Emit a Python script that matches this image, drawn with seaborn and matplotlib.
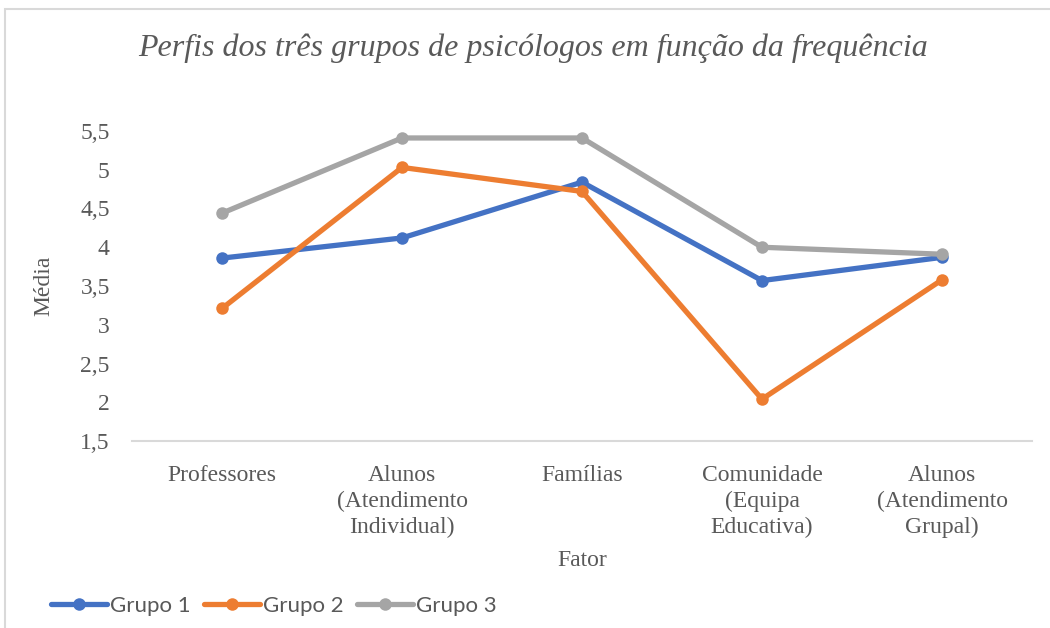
import matplotlib
matplotlib.use('Agg')
import matplotlib.pyplot as plt
import seaborn as sns
import pandas as pd
from matplotlib.ticker import FuncFormatter, MultipleLocator
from matplotlib.lines import Line2D

# Dados
fatores = ['Professores', 'Alunos\n(Atendimento\nIndividual)', 'Famílias',
           'Comunidade\n(Equipa\nEducativa)', 'Alunos\n(Atendimento\nGrupal)']
grupo1 = [3.86, 4.12, 4.84, 3.57, 3.87]
grupo2 = [3.21, 5.03, 4.72, 2.04, 3.58]
grupo3 = [4.44, 5.41, 5.41, 4.00, 3.91]
grupos = ['Grupo 1', 'Grupo 2', 'Grupo 3']
cores = ['#4472C4', '#ED7D31', '#A5A5A5']

df = pd.DataFrame({'Fator': fatores * 3,
                   'Média': grupo1 + grupo2 + grupo3,
                   'Grupo': [g for g in grupos for _ in fatores]})

sns.set_style('white')
plt.rcParams['font.family'] = 'serif'
plt.rcParams['font.serif'] = ['Liberation Serif', 'DejaVu Serif']

fig = plt.figure(figsize=(10.5, 6.28), dpi=100)
ax = fig.add_axes([132 / 1050, 1 - 441 / 628, 900 / 1050, 310 / 628])

cinza = '#595959'
for g, c in zip(grupos, cores):
    sub = df[df['Grupo'] == g]
    sns.lineplot(data=sub, x='Fator', y='Média', ax=ax, color=c, linewidth=3.8,
                 marker='o', markersize=9, markeredgewidth=0, sort=False,
                 solid_capstyle='round')

ax.set_xlim(-0.5, 4.5)
ax.set_ylim(1.5, 5.5)
ax.set_xticks(range(len(fatores)))
ax.set_xticklabels(fatores, linespacing=1.3)
ax.yaxis.set_major_locator(MultipleLocator(0.5))
ax.yaxis.set_major_formatter(FuncFormatter(lambda v, p: f'{v:g}'.replace('.', ',')))
ax.tick_params(axis='both', length=0, labelsize=17, labelcolor=cinza)
ax.tick_params(axis='x', pad=17)
ax.tick_params(axis='y', pad=16)
for s in ['top', 'right', 'left']:
    ax.spines[s].set_visible(False)
ax.spines['bottom'].set_color('#D9D9D9')
ax.spines['bottom'].set_linewidth(1.5)
if ax.get_legend():
    ax.get_legend().remove()

ax.set_xlabel('Fator', fontsize=17, color=cinza, va='center')
ax.set_ylabel('Média', fontsize=17, color=cinza, va='center')
ax.xaxis.set_label_coords(0.5, (441 - 561) / 310)
ax.yaxis.set_label_coords((44 - 132) / 900, 0.5)

fig.text(0.508, 1 - 48 / 628, 'Perfis dos três grupos de psicólogos em função da frequência',
         ha='center', va='center', fontsize=23, style='italic', color=cinza)

handles = [Line2D([0], [0], color=c, linewidth=3.8, marker='o', markersize=9,
                  markeredgewidth=0) for c in cores]
fig.legend(handles, grupos, loc='center left', bbox_to_anchor=(0.049, 1 - 606 / 628),
           ncol=3, frameon=False, handlelength=2.5, handletextpad=0.15,
           columnspacing=0.6, borderpad=0, borderaxespad=0,
           prop={'family': 'Lato', 'size': 16}, labelcolor=cinza)

# moldura da área do gráfico
fig.add_artist(plt.Rectangle((5 / 1050, -0.1), 1.2, 1 - 9 / 628 + 0.1,
                             transform=fig.transFigure, fill=False,
                             edgecolor='#D9D9D9', linewidth=1.5))

fig.savefig('out.png', dpi=100)
